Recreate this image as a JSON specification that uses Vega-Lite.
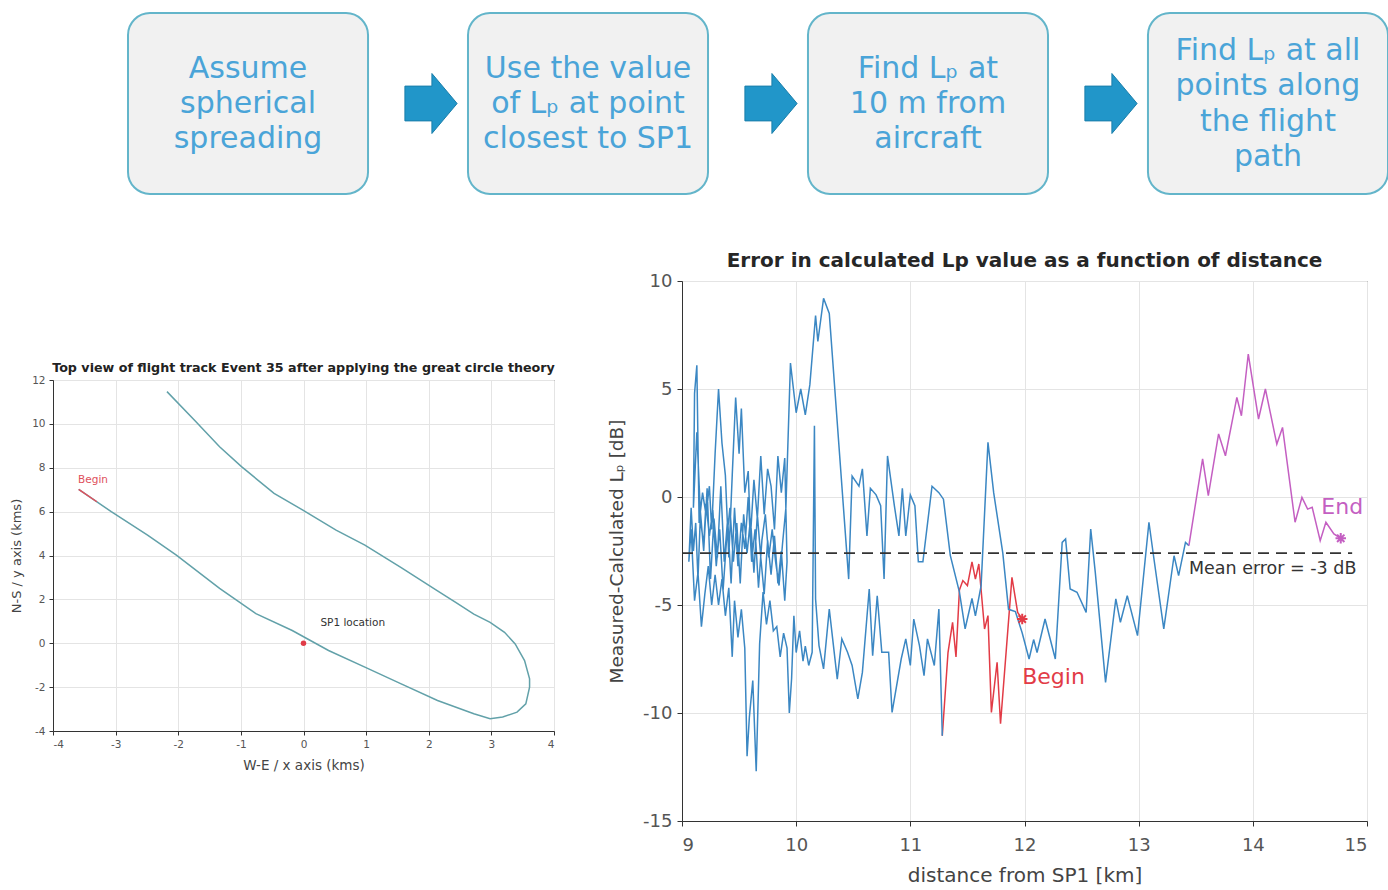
{
  "$schema": "https://vega.github.io/schema/vega-lite/v6.json",
  "background": "white",
  "padding": {"left": 10, "top": 12, "right": 0, "bottom": 0},
  "config": {
    "font": "DejaVu Sans",
    "view": {"stroke": "#333333", "strokeWidth": 1},
    "axis": {
      "gridColor": "#e4e4e4",
      "domainColor": "#333333",
      "tickColor": "#333333",
      "labelColor": "#555555",
      "titleColor": "#444444",
      "titleFontWeight": "normal",
      "labelFont": "DejaVu Sans",
      "titleFont": "DejaVu Sans"
    },
    "title": {"font": "DejaVu Sans", "fontWeight": "bold", "color": "#222222"}
  },
  "datasets": {
    "steps": [
      {"step": 1, "label": ["Assume", "spherical", "spreading"]},
      {"step": 2, "label": ["Use the value", "of Lₚ at point", "closest to SP1"]},
      {"step": 3, "label": ["Find  Lₚ at", "10 m from", "aircraft"]},
      {"step": 4, "label": ["Find  Lₚ at all", "points along", "the flight", "path"]}
    ],
    "track": [
      {"we": -3.59, "ns": 7.01}, {"we": -3.07, "ns": 6.0}, {"we": -2.49, "ns": 4.93},
      {"we": -2.03, "ns": 4.02}, {"we": -1.34, "ns": 2.5}, {"we": -0.76, "ns": 1.35},
      {"we": -0.18, "ns": 0.58}, {"we": 0.4, "ns": -0.33}, {"we": 0.98, "ns": -1.09},
      {"we": 1.56, "ns": -1.85}, {"we": 2.14, "ns": -2.61}, {"we": 2.72, "ns": -3.21},
      {"we": 2.98, "ns": -3.44}, {"we": 3.18, "ns": -3.36}, {"we": 3.41, "ns": -3.14},
      {"we": 3.55, "ns": -2.76}, {"we": 3.61, "ns": -2.0}, {"we": 3.61, "ns": -1.62},
      {"we": 3.53, "ns": -0.79}, {"we": 3.38, "ns": -0.03}, {"we": 3.21, "ns": 0.5},
      {"we": 2.98, "ns": 0.95}, {"we": 2.72, "ns": 1.33}, {"we": 2.43, "ns": 1.86},
      {"we": 2.14, "ns": 2.39}, {"we": 1.56, "ns": 3.45}, {"we": 0.98, "ns": 4.47},
      {"we": 0.52, "ns": 5.16}, {"we": -0.01, "ns": 6.07}, {"we": -0.47, "ns": 6.83},
      {"we": -0.99, "ns": 8.05}, {"we": -1.34, "ns": 8.96}, {"we": -1.74, "ns": 10.17},
      {"we": -2.18, "ns": 11.47}
    ],
    "trackBegin": [
      {"we": -3.59, "ns": 7.01}, {"we": -3.3, "ns": 6.45}
    ],
    "err": [
      {"s": "first", "d": 11.98, "e": -5.65}, {"s": "first", "d": 11.94, "e": -5.34},
      {"s": "first", "d": 11.89, "e": -3.72}, {"s": "first", "d": 11.79, "e": -10.5},
      {"s": "first", "d": 11.76, "e": -7.65}, {"s": "first", "d": 11.71, "e": -9.97},
      {"s": "first", "d": 11.68, "e": -5.49}, {"s": "first", "d": 11.65, "e": -6.11},
      {"s": "first", "d": 11.6, "e": -3.1}, {"s": "first", "d": 11.57, "e": -3.8},
      {"s": "first", "d": 11.54, "e": -3.0}, {"s": "first", "d": 11.5, "e": -4.1},
      {"s": "first", "d": 11.46, "e": -3.87}, {"s": "first", "d": 11.43, "e": -4.3},
      {"s": "first", "d": 11.4, "e": -7.4}, {"s": "first", "d": 11.37, "e": -5.8},
      {"s": "first", "d": 11.33, "e": -7.2}, {"s": "first", "d": 11.28, "e": -11.05},

      {"s": "main", "d": 11.28, "e": -11.05}, {"s": "main", "d": 11.25, "e": -5.19},
      {"s": "main", "d": 11.21, "e": -7.8}, {"s": "main", "d": 11.15, "e": -6.57},
      {"s": "main", "d": 11.12, "e": -8.27}, {"s": "main", "d": 11.08, "e": -6.88},
      {"s": "main", "d": 11.03, "e": -5.65}, {"s": "main", "d": 11.0, "e": -7.8},
      {"s": "main", "d": 10.96, "e": -6.57}, {"s": "main", "d": 10.92, "e": -7.5},
      {"s": "main", "d": 10.84, "e": -9.97}, {"s": "main", "d": 10.81, "e": -7.19},
      {"s": "main", "d": 10.75, "e": -7.19}, {"s": "main", "d": 10.71, "e": -4.57},
      {"s": "main", "d": 10.67, "e": -7.35}, {"s": "main", "d": 10.64, "e": -4.26},
      {"s": "main", "d": 10.58, "e": -8.12}, {"s": "main", "d": 10.54, "e": -9.35},
      {"s": "main", "d": 10.49, "e": -7.8}, {"s": "main", "d": 10.45, "e": -7.19},
      {"s": "main", "d": 10.4, "e": -6.57}, {"s": "main", "d": 10.36, "e": -8.43},
      {"s": "main", "d": 10.29, "e": -5.19}, {"s": "main", "d": 10.24, "e": -7.96},
      {"s": "main", "d": 10.2, "e": -6.88}, {"s": "main", "d": 10.17, "e": -4.72},
      {"s": "main", "d": 10.16, "e": 3.3}, {"s": "main", "d": 10.14, "e": -7.19},

      {"s": "main", "d": 10.11, "e": -7.8}, {"s": "main", "d": 10.08, "e": -6.9},
      {"s": "main", "d": 10.06, "e": -7.6}, {"s": "main", "d": 10.03, "e": -6.2},
      {"s": "main", "d": 10.0, "e": -7.2}, {"s": "main", "d": 9.98, "e": -5.5},
      {"s": "main", "d": 9.96, "e": -8.4}, {"s": "main", "d": 9.94, "e": -10.0},
      {"s": "main", "d": 9.92, "e": -7.0}, {"s": "main", "d": 9.89, "e": -6.3},
      {"s": "main", "d": 9.86, "e": -7.4}, {"s": "main", "d": 9.83, "e": -6.0},
      {"s": "main", "d": 9.8, "e": -6.2}, {"s": "main", "d": 9.77, "e": -4.8},
      {"s": "main", "d": 9.74, "e": -5.9}, {"s": "main", "d": 9.71, "e": -4.4},
      {"s": "main", "d": 9.68, "e": -6.8}, {"s": "main", "d": 9.65, "e": -12.7},
      {"s": "main", "d": 9.62, "e": -8.5}, {"s": "main", "d": 9.59, "e": -10.2},
      {"s": "main", "d": 9.57, "e": -12.0}, {"s": "main", "d": 9.55, "e": -7.0},
      {"s": "main", "d": 9.52, "e": -5.2}, {"s": "main", "d": 9.49, "e": -6.5},
      {"s": "main", "d": 9.46, "e": -4.8}, {"s": "main", "d": 9.44, "e": -7.4},
      {"s": "main", "d": 9.41, "e": -4.2}, {"s": "main", "d": 9.38, "e": -5.5},
      {"s": "main", "d": 9.35, "e": -3.8}, {"s": "main", "d": 9.32, "e": -5.0},
      {"s": "main", "d": 9.29, "e": -3.6}, {"s": "main", "d": 9.26, "e": -5.0},
      {"s": "main", "d": 9.23, "e": -3.2}, {"s": "main", "d": 9.2, "e": -4.5},
      {"s": "main", "d": 9.17, "e": -6.0}, {"s": "main", "d": 9.14, "e": -3.5},
      {"s": "main", "d": 9.11, "e": -4.8}, {"s": "main", "d": 9.08, "e": -1.5},
      {"s": "main", "d": 9.06, "e": -3.0},

      {"s": "main", "d": 9.08, "e": -0.5}, {"s": "main", "d": 9.1, "e": -2.5},
      {"s": "main", "d": 9.12, "e": -1.2}, {"s": "main", "d": 9.14, "e": -3.8},
      {"s": "main", "d": 9.16, "e": -1.0}, {"s": "main", "d": 9.19, "e": -2.2},
      {"s": "main", "d": 9.21, "e": -0.3}, {"s": "main", "d": 9.24, "e": -1.8},
      {"s": "main", "d": 9.27, "e": -0.6}, {"s": "main", "d": 9.3, "e": -3.2},
      {"s": "main", "d": 9.33, "e": -1.5}, {"s": "main", "d": 9.36, "e": -4.3},
      {"s": "main", "d": 9.39, "e": -2.0}, {"s": "main", "d": 9.42, "e": -0.5},
      {"s": "main", "d": 9.45, "e": -3.0}, {"s": "main", "d": 9.48, "e": -1.2},
      {"s": "main", "d": 9.51, "e": -4.0}, {"s": "main", "d": 9.54, "e": -0.8},
      {"s": "main", "d": 9.57, "e": -2.6}, {"s": "main", "d": 9.6, "e": -1.0},
      {"s": "main", "d": 9.63, "e": -3.5}, {"s": "main", "d": 9.66, "e": -0.8},
      {"s": "main", "d": 9.69, "e": -2.8}, {"s": "main", "d": 9.72, "e": -4.5},
      {"s": "main", "d": 9.75, "e": -2.0}, {"s": "main", "d": 9.78, "e": -3.6},
      {"s": "main", "d": 9.81, "e": -1.8}, {"s": "main", "d": 9.84, "e": -4.0},
      {"s": "main", "d": 9.87, "e": -2.5}, {"s": "main", "d": 9.9, "e": -4.8},
      {"s": "main", "d": 9.92, "e": -3.0},

      {"s": "main", "d": 9.9, "e": 1.8}, {"s": "main", "d": 9.87, "e": 0.2},
      {"s": "main", "d": 9.84, "e": 1.9}, {"s": "main", "d": 9.81, "e": -1.5},
      {"s": "main", "d": 9.78, "e": 0.5}, {"s": "main", "d": 9.75, "e": 1.3},
      {"s": "main", "d": 9.72, "e": -0.8}, {"s": "main", "d": 9.69, "e": 1.9},
      {"s": "main", "d": 9.66, "e": -1.0}, {"s": "main", "d": 9.63, "e": 0.8},
      {"s": "main", "d": 9.6, "e": -1.8}, {"s": "main", "d": 9.58, "e": 1.2},
      {"s": "main", "d": 9.55, "e": 0.2}, {"s": "main", "d": 9.52, "e": 4.1},
      {"s": "main", "d": 9.5, "e": 2.0}, {"s": "main", "d": 9.47, "e": 4.6},
      {"s": "main", "d": 9.44, "e": 1.0}, {"s": "main", "d": 9.41, "e": -2.8},
      {"s": "main", "d": 9.38, "e": 1.0}, {"s": "main", "d": 9.35, "e": 2.5},
      {"s": "main", "d": 9.32, "e": 5.0}, {"s": "main", "d": 9.29, "e": 2.0},
      {"s": "main", "d": 9.26, "e": -1.5}, {"s": "main", "d": 9.24, "e": 0.5},
      {"s": "main", "d": 9.21, "e": -0.8}, {"s": "main", "d": 9.18, "e": 0.2},
      {"s": "main", "d": 9.15, "e": -1.2}, {"s": "main", "d": 9.13, "e": 6.1},
      {"s": "main", "d": 9.11, "e": 4.8}, {"s": "main", "d": 9.1, "e": -0.5},

      {"s": "main", "d": 9.13, "e": 3.0}, {"s": "main", "d": 9.16, "e": -0.6},
      {"s": "main", "d": 9.19, "e": -2.5}, {"s": "main", "d": 9.22, "e": 0.4},
      {"s": "main", "d": 9.25, "e": -3.8}, {"s": "main", "d": 9.28, "e": -1.0},
      {"s": "main", "d": 9.31, "e": -2.8}, {"s": "main", "d": 9.34, "e": 0.5},
      {"s": "main", "d": 9.37, "e": -3.0}, {"s": "main", "d": 9.4, "e": -1.0},
      {"s": "main", "d": 9.43, "e": -4.0}, {"s": "main", "d": 9.46, "e": -0.5},
      {"s": "main", "d": 9.49, "e": -3.2}, {"s": "main", "d": 9.52, "e": -1.2},
      {"s": "main", "d": 9.55, "e": -2.4}, {"s": "main", "d": 9.58, "e": 0.0},
      {"s": "main", "d": 9.61, "e": -3.0}, {"s": "main", "d": 9.64, "e": -1.5},
      {"s": "main", "d": 9.67, "e": -4.2}, {"s": "main", "d": 9.7, "e": -2.0},
      {"s": "main", "d": 9.73, "e": -0.8}, {"s": "main", "d": 9.76, "e": -2.8},
      {"s": "main", "d": 9.79, "e": -1.5}, {"s": "main", "d": 9.82, "e": -3.0},
      {"s": "main", "d": 9.85, "e": -4.1}, {"s": "main", "d": 9.88, "e": -2.2},
      {"s": "main", "d": 9.91, "e": -0.5}, {"s": "main", "d": 9.95, "e": 6.2},
      {"s": "main", "d": 10.0, "e": 3.9}, {"s": "main", "d": 10.04, "e": 5.0},
      {"s": "main", "d": 10.08, "e": 3.8}, {"s": "main", "d": 10.12, "e": 5.2},
      {"s": "main", "d": 10.17, "e": 8.4}, {"s": "main", "d": 10.19, "e": 7.2},
      {"s": "main", "d": 10.24, "e": 9.2}, {"s": "main", "d": 10.29, "e": 8.5},
      {"s": "main", "d": 10.46, "e": -3.8}, {"s": "main", "d": 10.49, "e": 0.97},
      {"s": "main", "d": 10.55, "e": 0.5}, {"s": "main", "d": 10.58, "e": 1.3},
      {"s": "main", "d": 10.62, "e": -1.8}, {"s": "main", "d": 10.65, "e": 0.4},
      {"s": "main", "d": 10.7, "e": 0.1}, {"s": "main", "d": 10.74, "e": -0.4},
      {"s": "main", "d": 10.77, "e": -3.8}, {"s": "main", "d": 10.8, "e": 1.9},
      {"s": "main", "d": 10.86, "e": -0.4}, {"s": "main", "d": 10.9, "e": -1.8},
      {"s": "main", "d": 10.93, "e": 0.4}, {"s": "main", "d": 10.96, "e": -1.8},
      {"s": "main", "d": 11.0, "e": 0.1}, {"s": "main", "d": 11.04, "e": -0.4},
      {"s": "main", "d": 11.07, "e": -3.0}, {"s": "main", "d": 11.11, "e": -3.0},
      {"s": "main", "d": 11.19, "e": 0.5}, {"s": "main", "d": 11.25, "e": 0.2},
      {"s": "main", "d": 11.29, "e": -0.1}, {"s": "main", "d": 11.35, "e": -2.7},
      {"s": "main", "d": 11.43, "e": -4.4}, {"s": "main", "d": 11.48, "e": -6.1},
      {"s": "main", "d": 11.54, "e": -4.7}, {"s": "main", "d": 11.57, "e": -5.5},
      {"s": "main", "d": 11.62, "e": -4.1}, {"s": "main", "d": 11.68, "e": 2.53},
      {"s": "main", "d": 11.73, "e": 0.2}, {"s": "main", "d": 11.81, "e": -2.6},
      {"s": "main", "d": 11.86, "e": -5.2}, {"s": "main", "d": 11.92, "e": -5.3},
      {"s": "main", "d": 11.98, "e": -6.3}, {"s": "main", "d": 12.04, "e": -7.5},
      {"s": "main", "d": 12.08, "e": -6.6}, {"s": "main", "d": 12.11, "e": -7.2},
      {"s": "main", "d": 12.18, "e": -5.65}, {"s": "main", "d": 12.27, "e": -7.5},
      {"s": "main", "d": 12.33, "e": -2.1}, {"s": "main", "d": 12.36, "e": -1.94},
      {"s": "main", "d": 12.4, "e": -4.26}, {"s": "main", "d": 12.46, "e": -4.41},
      {"s": "main", "d": 12.54, "e": -5.34}, {"s": "main", "d": 12.58, "e": -1.48},
      {"s": "main", "d": 12.62, "e": -3.49}, {"s": "main", "d": 12.71, "e": -8.58},
      {"s": "main", "d": 12.8, "e": -4.72}, {"s": "main", "d": 12.84, "e": -5.8},
      {"s": "main", "d": 12.9, "e": -4.57}, {"s": "main", "d": 12.99, "e": -6.42},
      {"s": "main", "d": 13.09, "e": -1.17}, {"s": "main", "d": 13.13, "e": -2.72},
      {"s": "main", "d": 13.22, "e": -6.11}, {"s": "main", "d": 13.31, "e": -2.72},
      {"s": "main", "d": 13.35, "e": -3.64}, {"s": "main", "d": 13.41, "e": -2.1},
      {"s": "main", "d": 13.44, "e": -2.25},

      {"s": "last", "d": 13.44, "e": -2.25}, {"s": "last", "d": 13.56, "e": 1.76},
      {"s": "last", "d": 13.61, "e": 0.06}, {"s": "last", "d": 13.7, "e": 2.92},
      {"s": "last", "d": 13.76, "e": 1.91}, {"s": "last", "d": 13.86, "e": 4.61},
      {"s": "last", "d": 13.9, "e": 3.76}, {"s": "last", "d": 13.96, "e": 6.62},
      {"s": "last", "d": 14.05, "e": 3.61}, {"s": "last", "d": 14.11, "e": 5.0},
      {"s": "last", "d": 14.21, "e": 2.45}, {"s": "last", "d": 14.26, "e": 3.22},
      {"s": "last", "d": 14.37, "e": -1.17}, {"s": "last", "d": 14.43, "e": -0.02},
      {"s": "last", "d": 14.48, "e": -0.56}, {"s": "last", "d": 14.52, "e": -0.48},
      {"s": "last", "d": 14.59, "e": -2.02}, {"s": "last", "d": 14.64, "e": -1.17},
      {"s": "last", "d": 14.71, "e": -1.71}, {"s": "last", "d": 14.77, "e": -1.91}
    ],
    "ends": [
      {"s": "first", "d": 11.98, "e": -5.65, "name": "Begin", "labelD": 11.98, "labelE": -8.33},
      {"s": "last", "d": 14.77, "e": -1.91, "name": "End", "labelD": 14.6, "labelE": -0.46}
    ],
    "mean": [
      {"d": 9.0, "d2": 14.87, "e": -2.6}
    ]
  },
  "vconcat": [
    {
      "width": 1335,
      "height": 181,
      "view": {"stroke": null},
      "data": {"name": "steps"},
      "encoding": {
        "x": {
          "field": "step",
          "type": "ordinal",
          "axis": null,
          "scale": {"paddingInner": 0.294, "paddingOuter": 0.1103, "align": 1}
        }
      },
      "layer": [
        {
          "mark": {"type": "rect", "fill": "#f1f1f1", "stroke": "#63b5ca", "strokeWidth": 2, "cornerRadius": 22}
        },
        {
          "transform": [{"filter": "datum.step < 4"}],
          "mark": {"type": "text", "fontSize": 30, "lineHeight": 35, "color": "#4aa4d8", "baseline": "middle", "align": "center", "dy": -35},
          "encoding": {"text": {"field": "label"}}
        },
        {
          "transform": [{"filter": "datum.step == 4"}],
          "mark": {"type": "text", "fontSize": 30, "lineHeight": 35.5, "color": "#4aa4d8", "baseline": "middle", "align": "center", "dy": -53},
          "encoding": {"text": {"field": "label"}}
        },
        {
          "transform": [{"filter": "datum.step < 4"}],
          "mark": {
            "type": "point",
            "shape": "M-0.87,-0.58L0.03,-0.58L0.03,-1L0.87,0L0.03,1L0.03,0.58L-0.87,0.58Z",
            "filled": true,
            "fill": "#2196c9",
            "stroke": "#1a7eaa",
            "strokeWidth": 1,
            "opacity": 1,
            "size": 3600,
            "xOffset": 183
          }
        }
      ]
    },
    {
      "spacing": 51,
      "hconcat": [
        {
          "spacing": 35,
          "vconcat": [
            {
              "width": 20,
              "height": 45,
              "view": {"stroke": null},
              "data": {"values": [{}]},
              "mark": {"type": "text"},
              "encoding": {"text": {"value": ""}}
            },
            {
              "width": 501,
              "height": 351,
              "title": {"text": "Top view of flight track Event 35 after applying the great circle theory", "fontSize": 12.7, "offset": 0},
              "layer": [
                {
                  "data": {"name": "track"},
                  "mark": {"type": "line", "color": "#62a1a9", "strokeWidth": 1.5},
                  "encoding": {
                    "x": {
                      "field": "we", "type": "quantitative",
                      "scale": {"domain": [-4, 4], "nice": false},
                      "axis": {"values": [-4, -3, -2, -1, 0, 1, 2, 3, 4], "title": "W-E / x axis (kms)", "labelFontSize": 10.5, "titleFontSize": 13.5, "labelExpr": "'' + datum.value", "tickSize": 4, "labelPadding": 4, "titlePadding": 9}
                    },
                    "y": {
                      "field": "ns", "type": "quantitative",
                      "scale": {"domain": [-4, 12], "nice": false},
                      "axis": {"values": [-4, -2, 0, 2, 4, 6, 8, 10, 12], "title": "N-S / y axis (kms)", "labelFontSize": 10.5, "titleFontSize": 13, "labelExpr": "'' + datum.value", "tickSize": 4, "labelPadding": 4, "titlePadding": 8}
                    },
                    "order": {"value": null}
                  }
                },
                {
                  "data": {"name": "trackBegin"},
                  "mark": {"type": "line", "color": "#e0505c", "strokeWidth": 1.5},
                  "encoding": {
                    "x": {"field": "we", "type": "quantitative"},
                    "y": {"field": "ns", "type": "quantitative"},
                    "order": {"value": null}
                  }
                },
                {
                  "data": {"values": [{"we": 0, "ns": 0}]},
                  "mark": {"type": "point", "shape": "circle", "filled": true, "color": "#e03c48", "size": 30, "opacity": 1},
                  "encoding": {
                    "x": {"field": "we", "type": "quantitative"},
                    "y": {"field": "ns", "type": "quantitative"}
                  }
                },
                {
                  "data": {"values": [
                    {"we": -3.6, "ns": 7.45, "t": "Begin", "c": "#e0505c"},
                    {"we": 0.27, "ns": 0.91, "t": "SP1 location", "c": "#333333"}
                  ]},
                  "mark": {"type": "text", "align": "left", "baseline": "middle", "fontSize": 10.5},
                  "encoding": {
                    "x": {"field": "we", "type": "quantitative"},
                    "y": {"field": "ns", "type": "quantitative"},
                    "text": {"field": "t"},
                    "color": {"field": "c", "type": "nominal", "scale": null}
                  }
                }
              ]
            }
          ]
        },
        {
          "width": 685,
          "height": 540,
          "title": {"text": "Error in calculated Lp value as a function of distance", "fontSize": 20, "offset": 1, "color": "#262626"},
          "layer": [
            {
              "data": {"name": "err"},
              "mark": {"type": "line", "strokeWidth": 1.5},
              "encoding": {
                "x": {
                  "field": "d", "type": "quantitative",
                  "scale": {"domain": [9, 15], "nice": false},
                  "axis": {"values": [9, 10, 11, 12, 13, 14, 15], "title": "distance from SP1 [km]", "labelFontSize": 18, "titleFontSize": 20, "labelExpr": "'' + datum.value", "tickSize": 5, "labelPadding": 10, "titlePadding": 11}
                },
                "y": {
                  "field": "e", "type": "quantitative",
                  "scale": {"domain": [-15, 10], "nice": false},
                  "axis": {"values": [-15, -10, -5, 0, 5, 10], "title": "Measured-Calculated Lₚ [dB]", "labelFontSize": 18, "titleFontSize": 18.5, "labelExpr": "'' + datum.value", "tickSize": 5, "labelPadding": 5, "titlePadding": 16}
                },
                "color": {
                  "field": "s", "type": "nominal",
                  "scale": {"domain": ["first", "main", "last"], "range": ["#e23b46", "#3b87c3", "#c45fc2"]},
                  "legend": null
                },
                "order": {"value": null}
              }
            },
            {
              "data": {"name": "mean"},
              "mark": {"type": "rule", "color": "#333333", "strokeWidth": 1.6, "strokeDash": [11, 7]},
              "encoding": {
                "x": {"field": "d", "type": "quantitative"},
                "x2": {"field": "d2"},
                "y": {"field": "e", "type": "quantitative"}
              }
            },
            {
              "data": {"name": "mean"},
              "transform": [{"calculate": "'Mean error = ' + round(datum.e) + ' dB'", "as": "txt"}],
              "mark": {"type": "text", "align": "left", "baseline": "top", "fontSize": 17.5, "color": "#333333", "dy": 7},
              "encoding": {
                "x": {"datum": 13.44, "type": "quantitative"},
                "y": {"field": "e", "type": "quantitative"},
                "text": {"field": "txt"}
              }
            },
            {
              "data": {"name": "ends"},
              "mark": {
                "type": "point",
                "shape": "M0,-1L0,1M-1,0L1,0M-0.7,-0.7L0.7,0.7M-0.7,0.7L0.7,-0.7",
                "filled": false,
                "strokeWidth": 2,
                "size": 110,
                "opacity": 1
              },
              "encoding": {
                "x": {"field": "d", "type": "quantitative"},
                "y": {"field": "e", "type": "quantitative"},
                "color": {"field": "s", "type": "nominal", "legend": null}
              }
            },
            {
              "data": {"name": "ends"},
              "mark": {"type": "text", "align": "left", "baseline": "middle", "fontSize": 22},
              "encoding": {
                "x": {"field": "labelD", "type": "quantitative"},
                "y": {"field": "labelE", "type": "quantitative"},
                "text": {"field": "name"},
                "color": {"field": "s", "type": "nominal", "legend": null}
              }
            }
          ]
        }
      ]
    }
  ],
  "spacing": 55
}
